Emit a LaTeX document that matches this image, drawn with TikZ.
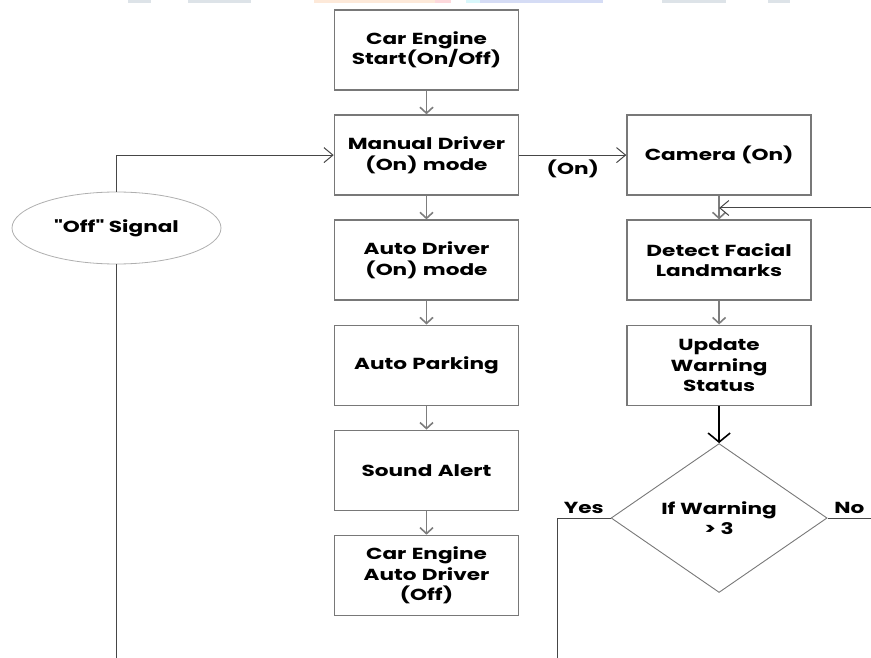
\documentclass[tikz,border=0pt]{standalone}
\usepackage{fontspec}
\newfontfamily\flowfont{Poppins}[FakeStretch=1.35]
\usetikzlibrary{arrows.meta,positioning,shapes.geometric}
\definecolor{boxgrey}{RGB}{120,120,120}
\definecolor{arrowgrey}{RGB}{125,125,125}
\definecolor{wiredark}{RGB}{70,70,70}
\definecolor{rimgrey}{RGB}{175,175,175}
\definecolor{markgrey}{RGB}{221,227,232}
\definecolor{markpeach}{RGB}{253,233,217}
\definecolor{markpink}{RGB}{253,217,220}
\definecolor{markcyan}{RGB}{217,247,251}
\definecolor{markblue}{RGB}{213,220,245}

\begin{document}
\begin{tikzpicture}[
      x=1pt, y=-1pt,
      node distance=23.5pt and 107pt,
      txt/.style={font=\flowfont\bfseries\fontsize{16}{20.5}\selectfont},
      box/.style={rectangle, draw=boxgrey, line width=1.6pt, fill=white, align=center,
        minimum width=184pt, minimum height=80pt, text width=180pt, inner sep=2pt, txt},
      decision/.style={diamond, draw=boxgrey, line width=0.9pt, align=center,
        minimum width=216pt, minimum height=143pt, inner sep=0pt, txt},
      signal/.style={ellipse, draw=rimgrey, line width=0.8pt, align=center,
        minimum width=209pt, minimum height=72pt, inner sep=0pt, txt},
      lbl/.style={txt, inner sep=2pt},
      garr/.style={-{Straight Barb[length=6pt, width=13pt]}, line width=1.6pt, draw=arrowgrey},
      wire/.style={line width=1pt, draw=wiredark},
      warr/.style={wire, -{Straight Barb[length=9pt, width=15pt]}},
      karr/.style={-{Straight Barb[length=9pt, width=22pt]}, line width=1.6pt, draw=black},
    ]
    \useasboundingbox (0,0) rectangle (871,658);

    % faint strip at the top edge
    \fill[markgrey] (128,0) rectangle (151,3);
    \fill[markgrey] (188,0) rectangle (251,3);
    \fill[markpeach] (314,0) rectangle (435,3);
    \fill[markpink] (435,0) rectangle (451,3);
    \fill[markcyan] (466,0) rectangle (480,3);
    \fill[markblue] (480,0) rectangle (603,3);
    \fill[markgrey] (662,0) rectangle (726,3);
    \fill[markgrey] (768,0) rectangle (790,3);

    % left column
    \node[box] (start) at (426.5,50) {Car Engine\\Start(On/Off)};
    \node[box, below=of start] (manual) {Manual Driver\\(On) mode};
    \node[box, below=of manual] (auto) {Auto Driver\\(On) mode};
    \node[box, below=of auto] (parking) {Auto Parking};
    \node[box, below=of parking] (sound) {Sound Alert};
    \node[box, below=of sound] (engoff) {Car Engine\\Auto Driver\\(Off)};

    % right column
    \node[box, right=of manual] (camera) {Camera (On)};
    \node[box, below=of camera] (detect) {Detect Facial\\Landmarks};
    \node[box, below=of detect] (update) {Update\\Warning\\Status};
    \node[decision, below=37pt of update] (warn) {If Warning\\> 3};

    \node[signal] (sig) at (116.5,228) {"Off" Signal};

    \coordinate (bottomedge) at (0,658);
    \coordinate (rightedge) at (871,208);
    \coordinate (yesdown) at (557,658);

    \draw[garr] (start) -- (manual);
    \draw[garr] (manual) -- (auto);
    \draw[garr] (auto) -- (parking);
    \draw[garr] (parking) -- (sound);
    \draw[garr] (sound) -- (engoff);
    \draw[garr] (camera) -- (detect);
    \draw[garr] (detect) -- (update);
    \draw[karr] (update) -- (warn);

    \draw[warr] (manual.east) -- node[lbl, below, yshift=-2pt] {(On)} (camera.west);
    \draw[warr] (sig.north) |- (manual.west);
    \draw[wire] (sig.south) -- (sig |- bottomedge);
    \draw[warr] (rightedge) -- (rightedge -| detect.north);
    \draw[wire] (warn.west) -- node[lbl, above, yshift=2pt] {Yes} (warn.west -| yesdown) -- (yesdown);
    \draw[wire] (warn.east) -- node[lbl, above, yshift=2pt] {No} (warn.east -| rightedge);
  \end{tikzpicture}
\end{document}
